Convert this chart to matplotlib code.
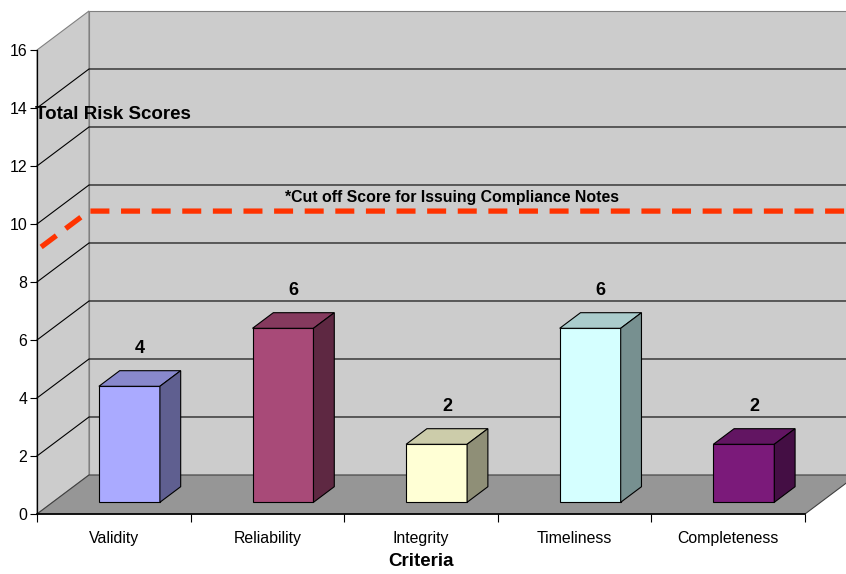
import matplotlib
matplotlib.use("Agg")
from matplotlib import pyplot as plt
from matplotlib.patches import Polygon

plt.rcParams["font.family"] = ["Liberation Sans", "DejaVu Sans"]

categories = ["Validity", "Reliability", "Integrity", "Timeliness", "Completeness"]
scores = [4, 6, 2, 6, 2]
cutoff = 9.1
cutoff_label = "*Cut off Score for Issuing Compliance Notes"
y_ticks = [0, 2, 4, 6, 8, 10, 12, 14, 16]

front_colors = ["#AAAAFF", "#A84A78", "#FFFFD5", "#D5FFFF", "#7B1A7A"]
top_colors = ["#8888CC", "#853A5E", "#CCCCAA", "#AACCCC", "#621562"]
side_colors = ["#5F5F90", "#5E2842", "#8F8F77", "#779090", "#440E44"]

# oblique depth offset (data units)
DX = 0.3385
DY = 1.345
ymax = 16
n = len(categories)

fig = plt.figure(figsize=(8.46, 5.74), dpi=100)
ax = fig.add_axes([37 / 846, 60 / 574, 768 / 846, 464 / 574])
ax.set_xlim(0, n)
ax.set_ylim(0, ymax)
ax.patch.set_visible(False)


def shift(x, y, d):
    return (x + d * DX, y + d * DY)


def poly(pts, fc, ec, lw=0.8, z=1):
    ax.add_patch(Polygon(pts, closed=True, facecolor=fc, edgecolor=ec,
                         linewidth=lw, zorder=z, clip_on=False))


# walls and floor
poly([(0, 0), shift(0, 0, 1), shift(0, ymax, 1), (0, ymax)], "#CCCCCC", "#808080", z=0.5)
poly([shift(0, 0, 1), shift(n, 0, 1), shift(n, ymax, 1), shift(0, ymax, 1)], "#CCCCCC", "#808080", z=0.5)
poly([(0, 0), (n, 0), shift(n, 0, 1), shift(0, 0, 1)], "#969696", "#404040", z=0.6)

# gridlines on side and back walls
for v in y_ticks[1:-1]:
    x0, y0 = shift(0, v, 1)
    x1, y1 = shift(n, v, 1)
    ax.plot([0, x0, x1], [v, y0, y1], color="black", lw=0.8, zorder=0.7, clip_on=False)

# cut off line
sx, sy = shift(0, cutoff, 0.08)
bx, by = shift(0, cutoff, 1)
ex, ey = shift(n, cutoff, 1)
ax.plot([sx, bx, ex], [sy, by, ey], color="#FF3300", lw=3.8, ls=(0, (3.6, 2.2)),
        zorder=0.9, clip_on=False, solid_capstyle="butt", dash_capstyle="butt")
ax.text(2.70, 10.93, cutoff_label, ha="center", va="center", fontsize=11.4,
        fontweight="bold", zorder=3)

# 3D bars
bw = 0.397
d0, d1 = 0.3, 0.7
for i, v in enumerate(scores):
    xl = i + 0.5 - bw / 2
    xr = i + 0.5 + bw / 2
    fl = shift(xl, 0, d0)
    fr = shift(xr, 0, d0)
    tl = shift(xl, v, d0)
    tr = shift(xr, v, d0)
    btl = shift(xl, v, d1)
    btr = shift(xr, v, d1)
    bbr = shift(xr, 0, d1)
    poly([fl, fr, tr, tl], front_colors[i], "black", z=2)
    poly([tl, tr, btr, btl], top_colors[i], "black", z=2)
    poly([fr, bbr, btr, tr], side_colors[i], "black", z=2)
    lx, ly = shift(i + 0.5, v, 0.5)
    ax.text(lx, ly + 0.2 * DY + 0.76, str(v), ha="center", va="center",
            fontsize=13, fontweight="bold", zorder=3)

# axes styling
for s in ["top", "right"]:
    ax.spines[s].set_visible(False)
ax.spines["left"].set_color("black")
ax.spines["bottom"].set_color("black")
ax.spines["left"].set_linewidth(0.9)
ax.spines["bottom"].set_linewidth(1.2)
ax.set_yticks(y_ticks)
ax.set_xticks(range(n + 1))
ax.set_xticklabels([])
ax.set_xticks([i + 0.5 for i in range(n)], minor=True)
ax.set_xticklabels(categories, minor=True)
ax.tick_params(axis="y", length=5, width=0.8, pad=2, labelsize=11.4)
ax.tick_params(axis="x", which="major", length=6, width=0.8)
ax.tick_params(axis="x", which="minor", length=0, pad=12, labelsize=11.4)
ax.set_xlabel("Criteria", fontsize=13.5, fontweight="bold", labelpad=5)
ax.text(-0.015, 13.79, "Total Risk Scores", ha="left", va="center",
        fontsize=13.5, fontweight="bold", zorder=3)

fig.savefig("out.png", dpi=100)
